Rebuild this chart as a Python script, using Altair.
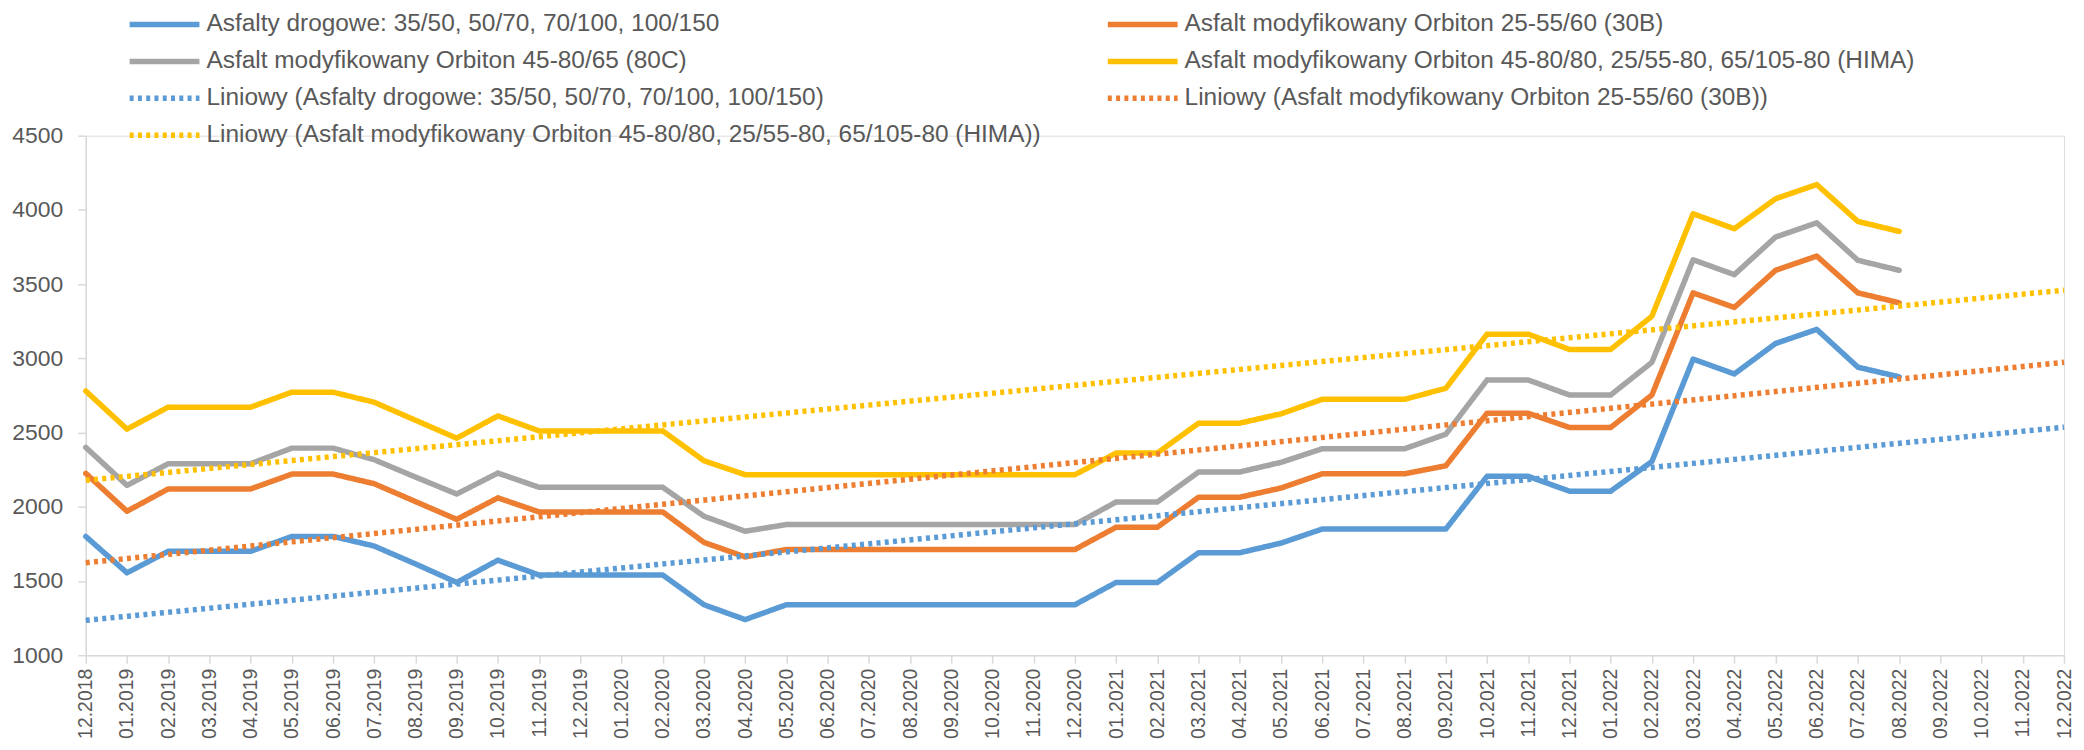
import altair as alt
import pandas as pd

months = ["12.2018",
          "01.2019", "02.2019", "03.2019", "04.2019", "05.2019", "06.2019",
          "07.2019", "08.2019", "09.2019", "10.2019", "11.2019", "12.2019",
          "01.2020", "02.2020", "03.2020", "04.2020", "05.2020", "06.2020",
          "07.2020", "08.2020", "09.2020", "10.2020", "11.2020", "12.2020",
          "01.2021", "02.2021", "03.2021", "04.2021", "05.2021", "06.2021",
          "07.2021", "08.2021", "09.2021", "10.2021", "11.2021", "12.2021",
          "01.2022", "02.2022", "03.2022", "04.2022", "05.2022", "06.2022",
          "07.2022", "08.2022", "09.2022", "10.2022", "11.2022", "12.2022"]

n_asf = "Asfalty drogowe: 35/50, 50/70, 70/100, 100/150"
n_30b = "Asfalt modyfikowany Orbiton 25-55/60 (30B)"
n_80c = "Asfalt modyfikowany Orbiton 45-80/65 (80C)"
n_hima = "Asfalt modyfikowany Orbiton 45-80/80, 25/55-80, 65/105-80 (HIMA)"
n_t_asf = "Liniowy (Asfalty drogowe: 35/50, 50/70, 70/100, 100/150)"
n_t_30b = "Liniowy (Asfalt modyfikowany Orbiton 25-55/60 (30B))"
n_t_hima = "Liniowy (Asfalt modyfikowany Orbiton 45-80/80, 25/55-80, 65/105-80 (HIMA))"

asfalty = [1800, 1555, 1700, 1700, 1700, 1800, 1800, 1735, 1615, 1490, 1640, 1540,
           1540, 1540, 1540, 1340, 1240, 1340, 1340, 1340, 1340, 1340, 1340, 1340,
           1340, 1490, 1490, 1690, 1690, 1755, 1850, 1850, 1850, 1850, 2205, 2205,
           2105, 2105, 2305, 2995, 2895, 3100, 3195, 2940, 2875]
b30 = [2225, 1970, 2120, 2120, 2120, 2220, 2220, 2155, 2035, 1915, 2060, 1965,
       1965, 1965, 1965, 1760, 1662, 1712, 1712, 1712, 1712, 1712, 1712, 1712,
       1712, 1862, 1862, 2064, 2064, 2126, 2222, 2222, 2222, 2276, 2630, 2630,
       2534, 2534, 2753, 3441, 3343, 3593, 3689, 3441, 3374]
c80 = [2400, 2144, 2290, 2290, 2290, 2395, 2395, 2317, 2200, 2086, 2227, 2131,
       2131, 2131, 2131, 1936, 1835, 1880, 1880, 1880, 1880, 1880, 1880, 1880,
       1880, 2032, 2032, 2234, 2234, 2299, 2391, 2391, 2391, 2489, 2854, 2854,
       2753, 2753, 2973, 3664, 3564, 3817, 3913, 3660, 3593]
hima = [2780, 2523, 2671, 2671, 2671, 2772, 2772, 2704, 2583, 2462, 2612, 2511,
        2511, 2511, 2511, 2310, 2216, 2216, 2216, 2216, 2216, 2216, 2216, 2216,
        2216, 2362, 2362, 2563, 2563, 2626, 2724, 2724, 2724, 2798, 3163, 3163,
        3060, 3060, 3284, 3974, 3873, 4075, 4171, 3922, 3855]

trend_months = ["12.2018", "12.2022"]
trend_asfalty = [1235, 2536]
trend_b30 = [1623, 2973]
trend_hima = [2178, 3459]

# legend order (column-major, 2 columns)
names = [n_asf, n_80c, n_t_asf, n_t_hima, n_30b, n_hima, n_t_30b]
colors = ["#5B9BD5", "#A5A5A5", "#5B9BD5", "#FFC000", "#ED7D31", "#FFC000", "#ED7D31"]
dashes = [[1, 0], [1, 0], [4, 4.3], [4, 4.3], [1, 0], [1, 0], [4, 4.3]]
widths = [5.5, 5.5, 4, 4, 5.5, 5.5, 4]

rows = []
for name, vals in zip([n_asf, n_30b, n_80c, n_hima], [asfalty, b30, c80, hima]):
    for m, v in zip(months, vals):
        rows.append({"series": name, "month": m, "value": v})
data_df = pd.DataFrame(rows)

trows = []
for name, vals in zip([n_t_asf, n_t_30b, n_t_hima], [trend_asfalty, trend_b30, trend_hima]):
    for m, v in zip(trend_months, vals):
        trows.append({"series": name, "month": m, "value": v})
trend_df = pd.DataFrame(trows)

FONT = "Liberation Sans"
TXT = "#595959"
AX = "#D9D9D9"

legend = alt.Legend(
    title=None, orient="none", legendX=41, legendY=-130, columns=2,
    symbolType="stroke", symbolSize=4900, clipHeight=37, rowPadding=0,
    columnPadding=63, labelOffset=4, padding=0, labelLimit=2000,
    labelFont=FONT, labelFontSize=24.5, labelColor=TXT,
)

x_enc = alt.X("month:O", sort=months,
              scale=alt.Scale(type="point", domain=months, padding=0),
              axis=alt.Axis(title=None, labelAngle=270, labelFont=FONT,
                            labelFontSize=19.5, labelColor=TXT, labelPadding=5,
                            tickColor=AX, tickSize=8, domainColor=AX,
                            domainWidth=1.5, tickWidth=1.5, grid=False))
y_enc = alt.Y("value:Q",
              scale=alt.Scale(domain=[1000, 4500], nice=False, zero=False),
              axis=alt.Axis(title=None, values=[1000, 1500, 2000, 2500, 3000, 3500, 4000, 4500],
                            format="d", labelFont=FONT, labelFontSize=23, labelColor=TXT,
                            labelPadding=15, tickColor=AX, tickSize=8,
                            domainColor=AX, domainWidth=1.5, tickWidth=1.5,
                            grid=False))

color_enc = alt.Color("series:N", scale=alt.Scale(domain=names, range=colors), legend=legend)
dash_enc = alt.StrokeDash("series:N", scale=alt.Scale(domain=names, range=dashes), legend=legend)
width_enc = alt.StrokeWidth("series:N", scale=alt.Scale(domain=names, range=widths), legend=legend)

solid = alt.Chart(data_df).mark_line(strokeCap="round", strokeJoin="round").encode(
    x=x_enc, y=y_enc, color=color_enc, strokeDash=dash_enc, strokeWidth=width_enc,
    detail="series:N")
trend = alt.Chart(trend_df).mark_line(strokeCap="butt").encode(
    x=x_enc, y=y_enc, color=color_enc, strokeDash=dash_enc, strokeWidth=width_enc,
    detail="series:N")

chart = alt.layer(solid, trend).properties(
    width=1984, height=521,
    autosize=alt.AutoSizeParams(type="none"),
    padding={"left": 78, "top": 127, "right": 12, "bottom": 86},
).configure_view(stroke=None).configure(background="white")

chart.save("out.html", embed_options={"renderer": "svg", "actions": False})
